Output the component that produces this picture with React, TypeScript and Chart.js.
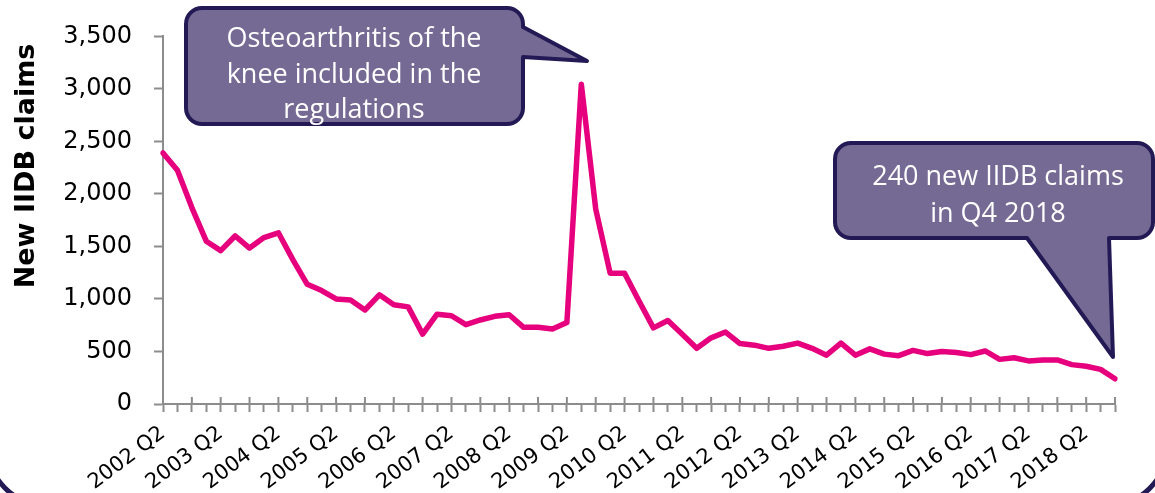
import React, { useEffect, useRef } from 'react';
import { Chart, registerables } from 'chart.js';

Chart.register(...registerables);

// Quarters from 2002 Q2 to 2018 Q4
const years = ['2002', '2003', '2004', '2005', '2006', '2007', '2008', '2009', '2010', '2011', '2012', '2013', '2014', '2015', '2016', '2017', '2018'];
const quarters = ['Q1', 'Q2', 'Q3', 'Q4'];
const categories: string[] = years.flatMap((y) => quarters.map((q) => `${y} ${q}`)).slice(1);

// New IIDB claims per quarter
const newClaims = [
  2390, 2225, 1870, 1550, 1460, 1600, 1485, 1585, 1630, 1375,
  1140, 1080, 1000, 990, 895, 1040, 945, 925, 665, 855,
  840, 755, 800, 835, 850, 730, 730, 715, 775, 3045,
  1855, 1245, 1245, 980, 725, 795, 665, 530, 630, 685,
  575, 560, 530, 550, 580, 530, 465, 580, 465, 525,
  475, 460, 510, 480, 500, 490, 470, 505, 425, 440,
  410, 420, 420, 375, 360, 330, 240,
];

const yAxisTitle = 'New IIDB claims';
const calloutPeak = ['Osteoarthritis of the', 'knee included in the', 'regulations'];
const calloutLatest = ['240 new IIDB claims', 'in Q4 2018'];

const AXIS_GREY = '#8c8c8c';
const LINE_COLOR = '#e6007e';
const CALLOUT_FILL = '#756a94';
const CALLOUT_STROKE = '#231a55';

const decorPlugin = {
  id: 'decor',
  afterDraw(chart: any) {
    const { ctx, chartArea, scales } = chart;
    const xs = scales.x;
    ctx.save();

    // Major tick marks crossing above the x axis (every 2nd quarter)
    ctx.strokeStyle = AXIS_GREY;
    ctx.lineWidth = 2;
    for (let i = 0; i < categories.length; i += 2) {
      const px = xs.getPixelForValue(i);
      ctx.beginPath();
      ctx.moveTo(px, chartArea.bottom - 7);
      ctx.lineTo(px, chartArea.bottom);
      ctx.stroke();
    }

    // Y axis title
    ctx.save();
    ctx.translate(27, 166);
    ctx.rotate(-Math.PI / 2);
    ctx.font = 'bold 27px "DejaVu Sans"';
    ctx.fillStyle = '#000';
    ctx.textAlign = 'center';
    ctx.textBaseline = 'middle';
    ctx.fillText(yAxisTitle, 0, 0);
    ctx.restore();

    ctx.lineJoin = 'round';
    ctx.lineWidth = 4;

    // Callout 1 (tail to the right)
    {
      const l = 186, t = 8, r = 523, b = 124, rad = 16;
      ctx.beginPath();
      ctx.moveTo(l + rad, t);
      ctx.lineTo(r - rad, t);
      ctx.arcTo(r, t, r, t + rad, rad);
      ctx.lineTo(r, 27);
      ctx.lineTo(587, 61);
      ctx.lineTo(r, 57);
      ctx.lineTo(r, b - rad);
      ctx.arcTo(r, b, r - rad, b, rad);
      ctx.lineTo(l + rad, b);
      ctx.arcTo(l, b, l, b - rad, rad);
      ctx.lineTo(l, t + rad);
      ctx.arcTo(l, t, l + rad, t, rad);
      ctx.closePath();
      ctx.fillStyle = CALLOUT_FILL;
      ctx.fill();
      ctx.strokeStyle = CALLOUT_STROKE;
      ctx.stroke();
      ctx.fillStyle = '#fff';
      ctx.font = '27px "Open Sans"';
      ctx.textAlign = 'center';
      ctx.textBaseline = 'alphabetic';
      const baselines = [47, 83, 118];
      calloutPeak.forEach((s, i) => ctx.fillText(s, 354, baselines[i]));
    }

    // Callout 2 (tail downward)
    {
      const l = 835, t = 143, r = 1153, b = 238, rad = 16;
      ctx.beginPath();
      ctx.moveTo(l + rad, t);
      ctx.lineTo(r - rad, t);
      ctx.arcTo(r, t, r, t + rad, rad);
      ctx.lineTo(r, b - rad);
      ctx.arcTo(r, b, r - rad, b, rad);
      ctx.lineTo(1109, b);
      ctx.lineTo(1113, 357);
      ctx.lineTo(1027, b);
      ctx.lineTo(l + rad, b);
      ctx.arcTo(l, b, l, b - rad, rad);
      ctx.lineTo(l, t + rad);
      ctx.arcTo(l, t, l + rad, t, rad);
      ctx.closePath();
      ctx.fillStyle = CALLOUT_FILL;
      ctx.fill();
      ctx.strokeStyle = CALLOUT_STROKE;
      ctx.stroke();
      ctx.fillStyle = '#fff';
      ctx.font = '27px "Open Sans"';
      ctx.textAlign = 'center';
      ctx.textBaseline = 'alphabetic';
      const baselines = [185, 222];
      calloutLatest.forEach((s, i) => ctx.fillText(s, 998, baselines[i]));
    }

    // Slide frame corners at the bottom
    ctx.beginPath();
    (ctx as any).roundRect(-12.6, -500, 1180.2, 1005.6, 60);
    ctx.strokeStyle = CALLOUT_STROKE;
    ctx.lineWidth = 5;
    ctx.stroke();

    ctx.restore();
  },
};

export default function App() {
  const ref = useRef<HTMLCanvasElement>(null);

  useEffect(() => {
    document.body.style.margin = '0';
    const chart = new Chart(ref.current as HTMLCanvasElement, {
      type: 'line',
      data: {
        labels: categories,
        datasets: [
          {
            data: newClaims,
            borderColor: LINE_COLOR,
            borderWidth: 5.5,
            pointRadius: 0,
            tension: 0,
            borderJoinStyle: 'round',
            borderCapStyle: 'round',
            fill: false,
          },
        ],
      },
      options: {
        animation: false,
        responsive: true,
        maintainAspectRatio: false,
        layout: { padding: { top: 32, right: 40, left: 0, bottom: 0 } },
        plugins: { legend: { display: false }, tooltip: { enabled: false } },
        scales: {
          x: {
            type: 'category',
            offset: false,
            grid: {
              display: true,
              drawOnChartArea: false,
              drawTicks: true,
              tickLength: 8,
              tickWidth: 2,
              tickColor: AXIS_GREY,
            },
            border: { display: true, color: AXIS_GREY, width: 2 },
            ticks: {
              autoSkip: false,
              minRotation: 37,
              maxRotation: 37,
              padding: 9,
              color: '#000',
              font: { family: 'DejaVu Sans', size: 21 },
              callback: (_v: any, i: number) => (i % 4 === 0 ? categories[i] : ''),
            },
            afterFit: (s: any) => {
              s.height = 89;
            },
          },
          y: {
            min: 0,
            max: 3500,
            grid: {
              display: true,
              drawOnChartArea: false,
              drawTicks: true,
              tickLength: 9,
              tickWidth: 2,
              tickColor: AXIS_GREY,
            },
            border: { display: true, color: AXIS_GREY, width: 2 },
            ticks: {
              stepSize: 500,
              padding: 22,
              color: '#000',
              font: { family: 'DejaVu Sans', size: 24 },
              callback: (v: any) => Number(v).toLocaleString('en-US'),
            },
            afterFit: (s: any) => {
              s.width = 163;
            },
          },
        },
      },
      plugins: [decorPlugin],
    });
    return () => chart.destroy();
  }, []);

  return (
    <div style={{ width: 1155, height: 493, position: 'relative' }}>
      <canvas ref={ref} />
    </div>
  );
}
